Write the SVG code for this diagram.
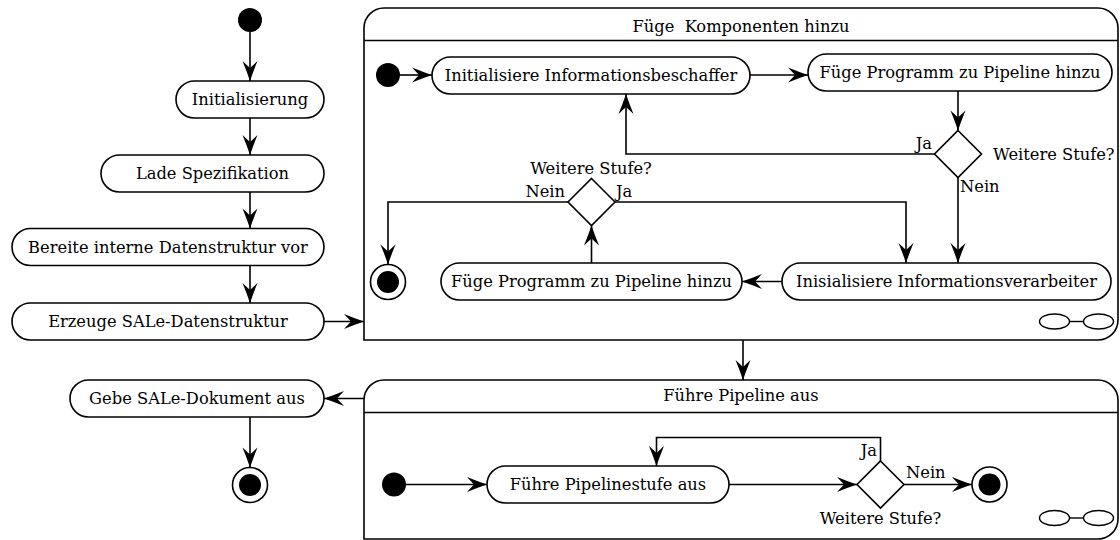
<svg xmlns="http://www.w3.org/2000/svg" width="1120" height="540" viewBox="0 0 1120 540">
  <style>
    .node { fill: #fff; stroke: #000; stroke-width: 1.6; }
    .frame { fill: #fff; stroke: #000; stroke-width: 1.6; }
    .lbl { font-family: "DejaVu Serif", "Liberation Serif", serif; font-size: 16.3px; fill: #000; }
    .mid { text-anchor: middle; }
    .end { text-anchor: end; }
    .start { text-anchor: start; }
    .edge { fill: none; stroke: #000; stroke-width: 1.6; marker-end: url(#stealth); }
    .start-dot { fill: #000; }
    .final-ring { fill: #fff; stroke: #000; stroke-width: 1.6; }
    .final-dot { fill: #000; }
    .decision { fill: #fff; stroke: #000; stroke-width: 1.6; }
    .rake { fill: #fff; stroke: #000; stroke-width: 1.4; }
  </style>
  <defs>
    <marker id="stealth" markerUnits="userSpaceOnUse" viewBox="-22 -9 23 18" refX="0" refY="0" markerWidth="23" markerHeight="18" orient="auto">
      <path d="M0,0 Q-9,-3 -20,-7.5 L-13,0 L-20,7.5 Q-9,3 0,0 Z" fill="#000"/>
    </marker>
  </defs>

  <!-- main flow, left column -->
  <g id="start-main"><circle class="start-dot" cx="250" cy="20" r="12"/></g>
  <g id="initialisierung">
    <rect class="node" x="176" y="81" width="148" height="37" rx="18.5"/>
    <text class="lbl mid" x="250" y="105">Initialisierung</text>
  </g>
  <g id="lade-spezifikation">
    <rect class="node" x="101" y="155" width="223" height="37" rx="18.5"/>
    <text class="lbl mid" x="212.5" y="179">Lade Spezifikation</text>
  </g>
  <g id="bereite-datenstruktur">
    <rect class="node" x="12" y="228.5" width="312" height="37" rx="18.5"/>
    <text class="lbl mid" x="168" y="252.5">Bereite interne Datenstruktur vor</text>
  </g>
  <g id="erzeuge-sale">
    <rect class="node" x="12" y="303" width="312" height="37" rx="18.5"/>
    <text class="lbl mid" x="168" y="327">Erzeuge SALe-Datenstruktur</text>
  </g>
  <g id="gebe-sale">
    <rect class="node" x="70" y="380" width="254" height="37" rx="18.5"/>
    <text class="lbl mid" x="197" y="404">Gebe SALe-Dokument aus</text>
  </g>
  <g id="final-main">
    <circle class="final-ring" cx="250" cy="485" r="17.5"/>
    <circle class="final-dot" cx="250" cy="485" r="11"/>
  </g>

  <!-- composite activity: Füge Komponenten hinzu -->
  <g id="fuege-komponenten">
    <path class="frame" d="M364,340 V28 A20,20 0 0 1 384,8 H1098 A20,20 0 0 1 1118,28 V320 A20,20 0 0 1 1098,340 Z"/>
    <line x1="364" y1="40.5" x2="1118" y2="40.5" stroke="#000" stroke-width="1.6"/>
    <text class="lbl mid" x="741" y="31.5" xml:space="preserve">Füge  Komponenten hinzu</text>
    <g id="fk-rake">
      <line x1="1069" y1="321.5" x2="1084" y2="321.5" stroke="#000" stroke-width="1.4"/>
      <ellipse class="rake" cx="1054.5" cy="321.5" rx="15" ry="7.5"/>
      <ellipse class="rake" cx="1098.5" cy="321.5" rx="15" ry="7.5"/>
    </g>
  </g>
  <g id="fk-start"><circle class="start-dot" cx="388" cy="75" r="12"/></g>
  <g id="init-beschaffer">
    <rect class="node" x="432" y="57" width="318" height="37" rx="18.5"/>
    <text class="lbl mid" x="591" y="81">Initialisiere Informationsbeschaffer</text>
  </g>
  <g id="fuege-programm-1">
    <rect class="node" x="808" y="54" width="304" height="37" rx="18.5"/>
    <text class="lbl mid" x="960" y="78">Füge Programm zu Pipeline hinzu</text>
  </g>
  <g id="decision-1">
    <polygon class="decision" points="958,130.5 981.5,154 958,177.5 934.5,154"/>
    <text class="lbl end" x="932" y="149">Ja</text>
    <text class="lbl start" x="993" y="160">Weitere Stufe?</text>
    <text class="lbl start" x="960" y="192">Nein</text>
  </g>
  <g id="init-verarbeiter">
    <rect class="node" x="782" y="263" width="329" height="37" rx="18.5"/>
    <text class="lbl mid" x="946.5" y="287">Inisialisiere Informationsverarbeiter</text>
  </g>
  <g id="fuege-programm-2">
    <rect class="node" x="441" y="263" width="301" height="37" rx="18.5"/>
    <text class="lbl mid" x="591.5" y="287">Füge Programm zu Pipeline hinzu</text>
  </g>
  <g id="decision-2">
    <polygon class="decision" points="591.5,178.5 615,202 591.5,225.5 568,202"/>
    <text class="lbl mid" x="591" y="174">Weitere Stufe?</text>
    <text class="lbl end" x="565" y="197">Nein</text>
    <text class="lbl start" x="616" y="197">Ja</text>
  </g>
  <g id="fk-final">
    <circle class="final-ring" cx="388" cy="282" r="17.5"/>
    <circle class="final-dot" cx="388" cy="282" r="11"/>
  </g>

  <!-- composite activity: Führe Pipeline aus -->
  <g id="fuehre-pipeline">
    <path class="frame" d="M364,539 V400 A20,20 0 0 1 384,380 H1098 A20,20 0 0 1 1118,400 V519 A20,20 0 0 1 1098,539 Z"/>
    <line x1="364" y1="412.5" x2="1118" y2="412.5" stroke="#000" stroke-width="1.6"/>
    <text class="lbl mid" x="741" y="401">Führe Pipeline aus</text>
    <g id="fp-rake">
      <line x1="1069" y1="518" x2="1084" y2="518" stroke="#000" stroke-width="1.4"/>
      <ellipse class="rake" cx="1054.5" cy="518" rx="15" ry="7.5"/>
      <ellipse class="rake" cx="1098.5" cy="518" rx="15" ry="7.5"/>
    </g>
  </g>
  <g id="fp-start"><circle class="start-dot" cx="394" cy="484.5" r="12"/></g>
  <g id="fuehre-stufe">
    <rect class="node" x="487" y="466" width="242" height="37" rx="18.5"/>
    <text class="lbl mid" x="608" y="490">Führe Pipelinestufe aus</text>
  </g>
  <g id="decision-3">
    <polygon class="decision" points="880.5,461 904,484.5 880.5,508 857,484.5"/>
    <text class="lbl end" x="877" y="456">Ja</text>
    <text class="lbl start" x="906" y="478">Nein</text>
    <text class="lbl mid" x="880.5" y="524">Weitere Stufe?</text>
  </g>
  <g id="fp-final">
    <circle class="final-ring" cx="989.5" cy="484.5" r="17.5"/>
    <circle class="final-dot" cx="989.5" cy="484.5" r="11"/>
  </g>

  <!-- control flows -->
  <g id="connectors">
    <path class="edge" d="M250,32 V81"/>
    <path class="edge" d="M250,118 V155"/>
    <path class="edge" d="M250,192 V228.5"/>
    <path class="edge" d="M250,265.5 V303"/>
    <path class="edge" d="M324,321.5 H364"/>
    <path class="edge" d="M743,340 V380"/>
    <path class="edge" d="M364,398.5 H324"/>
    <path class="edge" d="M250,417 V467.5"/>

    <path class="edge" d="M400,75 H432"/>
    <path class="edge" d="M750,75 H808"/>
    <path class="edge" d="M958,91 V130.5"/>
    <path class="edge" d="M934.5,154 H626 V94"/>
    <path class="edge" d="M958,177.5 V263"/>
    <path class="edge" d="M782,281.5 H742"/>
    <path class="edge" d="M591.5,263 V225.5"/>
    <path class="edge" d="M568,202 H388 V264.5"/>
    <path class="edge" d="M615,202 H906 V263"/>

    <path class="edge" d="M406,484.5 H487"/>
    <path class="edge" d="M729,484.5 H857"/>
    <path class="edge" d="M880.5,461 V437.5 H656.5 V466"/>
    <path class="edge" d="M904,484.5 H972"/>
  </g>
</svg>
